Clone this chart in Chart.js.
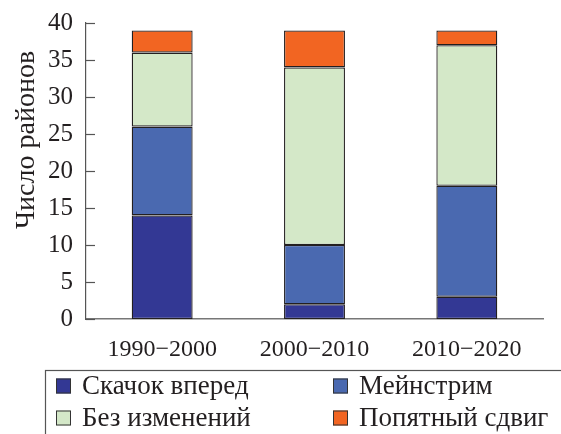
<!DOCTYPE html>
<html>
<head>
<meta charset="utf-8">
<script src="https://cdn.jsdelivr.net/npm/chart.js@4.4.0/dist/chart.umd.min.js"></script>
<style>
    html, body { margin: 0; padding: 0; background: #fff; }
    #wrap { width: 561px; height: 434px; position: relative; }
</style>
</head>
<body>
<div id="wrap"><canvas id="grafico" width="561" height="434"></canvas></div>
<script>
// dados
var periodos = ['1990\u22122000', '2000\u22122010', '2010\u22122020'];
var skachok = [14, 2, 3];
var meinstrim = [12, 8, 15];
var bezIzm = [10, 24, 19];
var popyatny = [3, 5, 2];
var yTicks = [0, 5, 10, 15, 20, 25, 30, 35, 40];

var fonte = '"Liberation Serif", "Times New Roman", serif';
var borda = '#231f20';

// legenda + titulo do eixo y + ticks para dentro
var extras = {
    id: 'extras',
    afterDraw: function (chart) {
        var c = chart.ctx;
        var y = chart.scales.y;
        c.save();

        // ticks voltados para dentro
        c.strokeStyle = '#555';
        c.lineWidth = 1.2;
        yTicks.forEach(function (v) {
            var py = Math.round(y.getPixelForValue(v)) + 0.5;
            c.beginPath();
            c.moveTo(chart.chartArea.left, py);
            c.lineTo(chart.chartArea.left + 9, py);
            c.stroke();
        });

        // titulo do eixo
        c.fillStyle = '#231f20';
        c.font = '28px ' + fonte;
        c.translate(27, 140);
        c.rotate(-Math.PI / 2);
        c.textAlign = 'center';
        c.textBaseline = 'middle';
        c.fillText('Число районов', 0, 0);
        c.restore();

        // caixa da legenda
        c.save();
        c.strokeStyle = '#555';
        c.lineWidth = 1.2;
        c.strokeRect(45.5, 370.5, 530, 80);
        c.font = '27px ' + fonte;
        c.textBaseline = 'middle';
        var pos = [[56, 386], [333, 386], [56, 418], [333, 418]];
        chart.data.datasets.forEach(function (ds, i) {
            var p = pos[i];
            c.fillStyle = ds.backgroundColor;
            c.fillRect(p[0], p[1] - 7.5, 15, 15);
            c.strokeStyle = '#333';
            c.lineWidth = 1;
            c.strokeRect(p[0] + 0.5, p[1] - 7, 14, 14);
            c.fillStyle = '#231f20';
            c.fillText(ds.label, p[0] + 26, p[1] + 1);
        });
        c.restore();
    }
};

var ctx = document.getElementById('grafico');
var grafico = new Chart(ctx, {
    type: 'bar',
    data: {
        labels: periodos,
        datasets: [
            { label: 'Скачок вперед', data: skachok, backgroundColor: '#333894' },
            { label: 'Мейнстрим', data: meinstrim, backgroundColor: '#4a69b0' },
            { label: 'Без изменений', data: bezIzm, backgroundColor: '#d4e8c8' },
            { label: 'Попятный сдвиг', data: popyatny, backgroundColor: '#f26522' }
        ].map(function (ds) {
            ds.borderColor = borda;
            ds.borderWidth = 1.3;
            ds.borderSkipped = false;
            ds.barPercentage = 0.4;
            ds.categoryPercentage = 1;
            return ds;
        })
    },
    options: {
        responsive: false,
        animation: false,
        devicePixelRatio: 1,
        layout: { padding: { left: 0, right: 18, top: 23, bottom: 0 } },
        plugins: {
            legend: { display: false },
            tooltip: { enabled: false }
        },
        scales: {
            x: {
                stacked: true,
                grid: { display: false, drawTicks: false },
                border: { color: '#777', width: 1.5 },
                ticks: {
                    color: '#231f20',
                    padding: 16,
                    font: { family: fonte, size: 24 }
                },
                afterFit: function (s) { s.height = 115; }
            },
            y: {
                stacked: true,
                min: 0,
                max: 40,
                grid: { display: false, drawTicks: false },
                border: { color: '#555', width: 1.2 },
                ticks: {
                    stepSize: 5,
                    color: '#231f20',
                    padding: 13,
                    font: { family: fonte, size: 25, lineHeight: 0.8 }
                },
                afterFit: function (s) { s.width = 86; s.paddingTop = 0; }
            }
        }
    },
    plugins: [extras]
});
</script>
</body>
</html>
